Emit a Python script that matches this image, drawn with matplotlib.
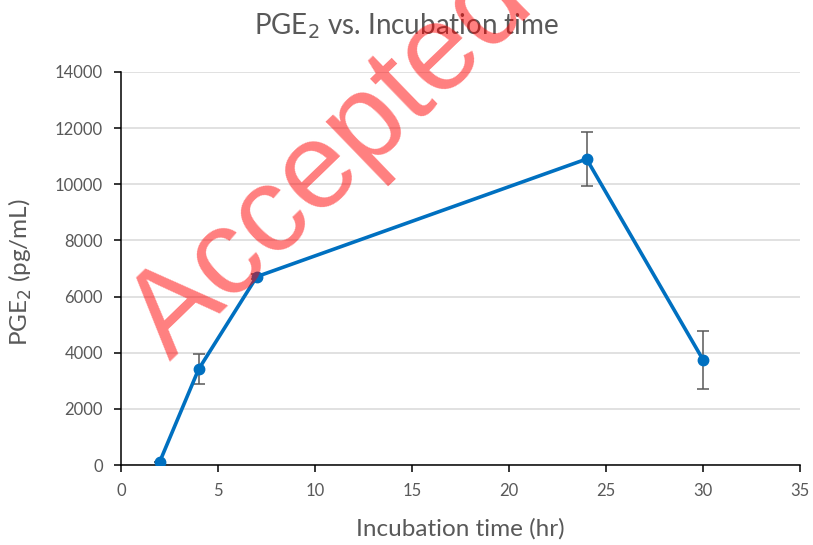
import matplotlib
matplotlib.use("Agg")
import matplotlib.pyplot as plt

# incubation time (hr) vs PGE2 concentration (pg/mL)
time_hr = [2, 4, 7, 24, 30]
pge2 = [120, 3410, 6710, 10900, 3750]
pge2_err = [0, 540, 100, 950, 1030]

x_ticks = [0, 5, 10, 15, 20, 25, 30, 35]
y_ticks = [0, 2000, 4000, 6000, 8000, 10000, 12000, 14000]

W, H = 813, 545
plt.rcParams["font.family"] = ["Lato", "DejaVu Sans"]

fig = plt.figure(figsize=(W / 100, H / 100), dpi=100)
ax = fig.add_axes([121 / W, 1 - 465 / H, (800 - 121) / W, (465 - 72) / H])

ax.errorbar(time_hr, pge2, yerr=pge2_err, color="#0070C0", lw=2.6,
            marker="o", ms=7.5, ecolor="#595959", elinewidth=1.1,
            capsize=4.5, capthick=1.1, zorder=3)

ax.set_xlim(0, 35)
ax.set_ylim(0, 14000)
ax.set_xticks(x_ticks)
ax.set_yticks(y_ticks)
ax.grid(axis="y", color="#D9D9D9", lw=1.1)
ax.set_axisbelow(True)
for side in ("top", "right"):
    ax.spines[side].set_visible(False)
for side in ("left", "bottom"):
    ax.spines[side].set_color("black")
    ax.spines[side].set_linewidth(1.1)
ax.tick_params(axis="both", colors="black", labelcolor="#595959",
               labelsize=12, length=5, width=1.1)
ax.tick_params(axis="x", pad=8)
ax.tick_params(axis="y", pad=8)

ax.set_xlabel("Incubation time (hr)", fontsize=17.5, color="#595959")
ax.set_ylabel("PGE$_2$ (pg/mL)", fontsize=17.5, color="#595959")
ax.xaxis.set_label_coords(0.5, -0.135)
ax.yaxis.set_label_coords(-0.128, 0.49)
fig.text(0.5, 1 - 26 / H, "PGE$_2$ vs. Incubation time", ha="center",
         va="center", fontsize=20, color="#595959")

# watermark drawn over everything
fig.text(170 / W, 1 - 362 / H, "Accepted", rotation=44, rotation_mode="anchor",
         ha="left", va="baseline", fontsize=88, color="red", alpha=0.5,
         family="Liberation Sans", zorder=10)

fig.savefig("out.png", dpi=100)
